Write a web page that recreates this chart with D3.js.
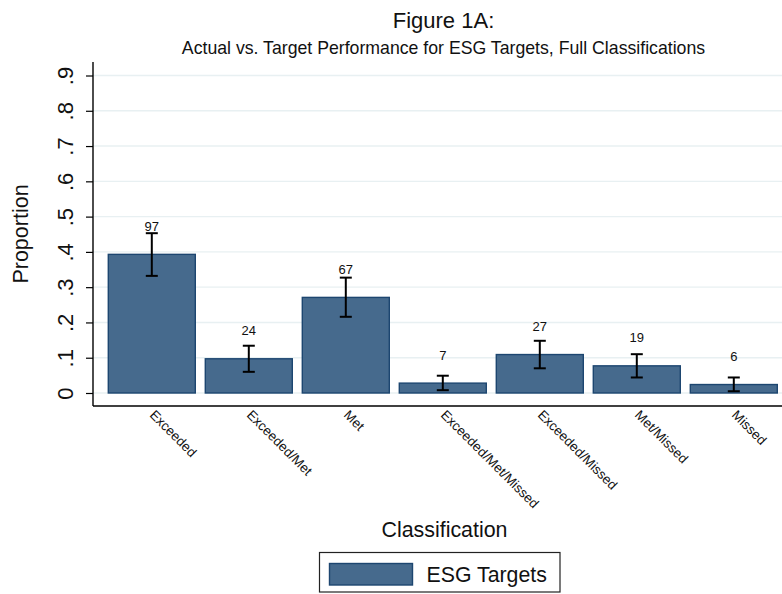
<!DOCTYPE html>
<html>
<head>
<meta charset="utf-8">
<script src="https://cdn.jsdelivr.net/npm/d3@7"></script>
<style>
  html, body { margin: 0; padding: 0; background: #ffffff; }
  svg { display: block; font-family: "Liberation Sans", Arial, Helvetica, sans-serif; }
</style>
</head>
<body>
<svg id="chart" width="782" height="594"></svg>
<script>
// Target classifications and their share of all ESG targets
const categories = ["Exceeded", "Exceeded/Met", "Met", "Exceeded/Met/Missed", "Exceeded/Missed", "Met/Missed", "Missed"];
const counts = [97, 24, 67, 7, 27, 19, 6];
const proportions = [0.393, 0.097, 0.271, 0.028, 0.109, 0.077, 0.024];
// 95% confidence bounds for each proportion
const ciLower = [0.332, 0.060, 0.216, 0.008, 0.070, 0.044, 0.005];
const ciUpper = [0.453, 0.134, 0.327, 0.049, 0.148, 0.110, 0.044];
// Y axis ticks and their labels
const yTicks = [0, 0.1, 0.2, 0.3, 0.4, 0.5, 0.6, 0.7, 0.8, 0.9];
const yTickLabels = ["0", ".1", ".2", ".3", ".4", ".5", ".6", ".7", ".8", ".9"];

const titleText = "Figure 1A:";
const subtitleText = "Actual vs. Target Performance for ESG Targets, Full Classifications";
const yTitle = "Proportion";
const xTitle = "Classification";
const legendLabel = "ESG Targets";

const rows = categories.map((c, i) => ({
  cat: c, n: counts[i], p: proportions[i], lo: ciLower[i], hi: ciUpper[i]
}));

const svg = d3.select("#chart");
const plotLeft = 93, plotRight = 782, plotTop = 62, plotBottom = 406;
const barFill = "#466a8d", barStroke = "#1d4670", gridColor = "#e8f0f2";

const y = d3.scaleLinear().domain([0, 0.9]).range([393, 75.5]);
const x = d3.scaleBand().domain(categories).range([108.3, 777.3])
  .paddingInner(10 / 97).paddingOuter(0);

// Horizontal grid at every tick
svg.append("g").selectAll("line").data(yTicks).join("line")
  .attr("x1", plotLeft).attr("x2", plotRight)
  .attr("y1", d => y(d)).attr("y2", d => y(d))
  .attr("stroke", gridColor).attr("stroke-width", 1.4);

// Bars
svg.append("g").selectAll("rect").data(rows).join("rect")
  .attr("x", d => x(d.cat)).attr("width", x.bandwidth())
  .attr("y", d => y(d.p)).attr("height", d => y(0) - y(d.p))
  .attr("fill", barFill).attr("stroke", barStroke).attr("stroke-width", 1.4);

// Confidence interval whiskers
const cap = 6;
const ci = svg.append("g").attr("stroke", "#000").attr("stroke-width", 2);
rows.forEach(d => {
  const cx = x(d.cat) + x.bandwidth() / 2;
  ci.append("line").attr("x1", cx).attr("x2", cx).attr("y1", y(d.lo)).attr("y2", y(d.hi));
  ci.append("line").attr("x1", cx - cap).attr("x2", cx + cap).attr("y1", y(d.lo)).attr("y2", y(d.lo));
  ci.append("line").attr("x1", cx - cap).attr("x2", cx + cap).attr("y1", y(d.hi)).attr("y2", y(d.hi));
});

// Count labels above bars
svg.append("g").selectAll("text").data(rows).join("text")
  .attr("x", d => x(d.cat) + x.bandwidth() / 2)
  .attr("y", d => y(d.p) - 23.4)
  .attr("text-anchor", "middle").attr("font-size", 13).attr("fill", "#111")
  .text(d => d.n);

// Y axis
const yAxis = svg.append("g").attr("transform", `translate(${plotLeft},0)`)
  .call(d3.axisLeft(y).tickValues(yTicks).tickSize(7).tickPadding(0)
    .tickFormat((d, i) => yTickLabels[i]));
yAxis.select(".domain").remove();
yAxis.selectAll(".tick line").attr("stroke", "#000").attr("stroke-width", 1.2);
yAxis.selectAll(".tick text")
  .attr("x", null).attr("dy", null)
  .attr("transform", "translate(-20,0) rotate(-90)")
  .attr("text-anchor", "middle").attr("font-size", 22).attr("fill", "#111")
  .attr("font-family", "'Liberation Sans', Arial, Helvetica, sans-serif");
svg.append("line").attr("x1", plotLeft).attr("x2", plotLeft)
  .attr("y1", plotTop).attr("y2", plotBottom)
  .attr("stroke", "#000").attr("stroke-width", 1.4);

// X axis with slanted category labels
const xAxis = svg.append("g").attr("transform", `translate(0,${plotBottom})`)
  .call(d3.axisBottom(x).tickSize(0).tickPadding(0));
xAxis.select(".domain").remove();
xAxis.selectAll(".tick text")
  .attr("y", null).attr("dy", null)
  .attr("transform", "translate(4,3) rotate(45)")
  .attr("text-anchor", "start").attr("dominant-baseline", "hanging")
  .attr("font-size", 13.4).attr("fill", "#111")
  .attr("font-family", "'Liberation Sans', Arial, Helvetica, sans-serif");
svg.append("line").attr("x1", plotLeft).attr("x2", plotRight)
  .attr("y1", plotBottom).attr("y2", plotBottom)
  .attr("stroke", "#000").attr("stroke-width", 1.4);

// Titles
svg.append("text").attr("x", 443.5).attr("y", 28).attr("text-anchor", "middle")
  .attr("font-size", 22).attr("fill", "#111").text(titleText);
svg.append("text").attr("x", 443.5).attr("y", 54).attr("text-anchor", "middle")
  .attr("font-size", 17.7).attr("fill", "#111").text(subtitleText);
svg.append("text").attr("transform", "translate(28,234) rotate(-90)")
  .attr("text-anchor", "middle").attr("font-size", 21.5).attr("fill", "#111").text(yTitle);
svg.append("text").attr("x", 444.5).attr("y", 537).attr("text-anchor", "middle")
  .attr("font-size", 21.4).attr("fill", "#111").text(xTitle);

// Legend
const lg = svg.append("g");
lg.append("rect").attr("x", 319.5).attr("y", 552.5).attr("width", 240.5).attr("height", 39.5)
  .attr("fill", "#fff").attr("stroke", "#222").attr("stroke-width", 1.2);
lg.append("rect").attr("x", 329.5).attr("y", 563.5).attr("width", 83).attr("height", 21.5)
  .attr("fill", barFill).attr("stroke", barStroke).attr("stroke-width", 1.4);
lg.append("text").attr("x", 426.5).attr("y", 582).attr("font-size", 21.3)
  .attr("fill", "#111").text(legendLabel);
</script>
</body>
</html>
